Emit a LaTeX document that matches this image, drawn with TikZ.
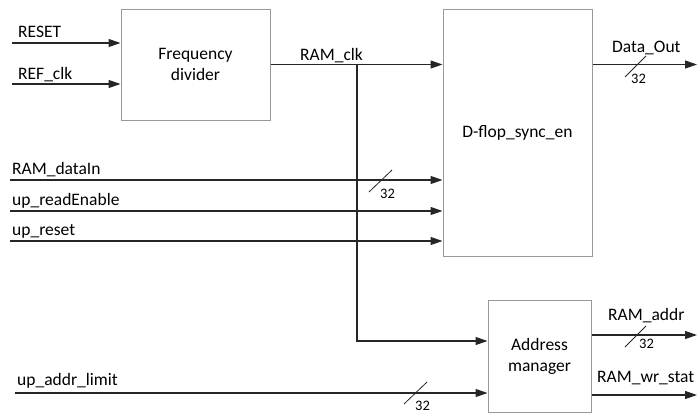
\documentclass[tikz,border=0pt]{standalone}
\usepackage{fontspec}
\setmainfont{Carlito}
\usetikzlibrary{arrows.meta}
\begin{document}
\begin{tikzpicture}[x=1pt,y=-1pt,
  blk/.style={draw=black!40, line width=1pt, inner sep=0pt, align=center, font=\fontsize{17.5}{21}\selectfont},
  sig/.style={line width=1.2pt, draw=black!85},
  arr/.style={sig, -{Triangle[length=12pt,width=8pt]}},
  lbl/.style={font=\fontsize{17.5}{20}\selectfont, inner sep=0pt, anchor=base west},
  bus/.style={line width=0.8pt, draw=black!85},
  num/.style={font=\fontsize{14.5}{16}\selectfont, inner sep=0pt, anchor=base west}
]
\useasboundingbox (0,0) rectangle (697,413);
% blocks
\node[blk, minimum width=149pt, minimum height=111pt] (fd) at (195.5,64.5) {Frequency\\divider};
\node[blk, minimum width=149pt, minimum height=247pt] (df) at (517.5,132.5) {D-flop\_sync\_en};
\node[blk, minimum width=103pt, minimum height=112pt] (am) at (539.5,356) {Address\\manager};
% free ends
\coordinate (iRESET) at (12,43);
\coordinate (iREF) at (12,84);
\coordinate (iDIN) at (10,180);
\coordinate (iRE) at (10,211);
\coordinate (iRST) at (10,241);
\coordinate (iLIM) at (15,393);
\coordinate (oDO) at (697,64.5);
\coordinate (oADDR) at (697,335);
\coordinate (oWR) at (697,395);
\coordinate (br) at (357,64.5);
% connectors
\draw[arr] (iRESET) -- (fd.west |- iRESET);
\draw[arr] (iREF) -- (fd.west |- iREF);
\draw[arr] (fd.east) -- (df.west |- fd.east);
\draw[arr] (br) |- ([yshift=15pt]am.west);
\draw[arr] (df.east |- oDO) -- (oDO);
\draw[arr] (iDIN) -- (df.west |- iDIN);
\draw[arr] (iRE) -- (df.west |- iRE);
\draw[arr] (iRST) -- (df.west |- iRST);
\draw[arr] (iLIM) -- (am.west |- iLIM);
\draw[arr] (am.east |- oADDR) -- (oADDR);
\draw[arr] (am.east |- oWR) -- (oWR);
% bus markers
\draw[bus] (625,77) -- (646,56);
\draw[bus] (369,192) -- (392,170);
\draw[bus] (625,347) -- (646,326);
\draw[bus] (404,404) -- (427,382);
\node[num] at (631,83) {32};
\node[num] at (380,198) {32};
\node[num] at (639,348) {32};
\node[num] at (415,410) {32};
% labels
\node[lbl] at (18,37) {RESET};
\node[lbl] at (18,79) {REF\_clk};
\node[lbl] at (300,60) {RAM\_clk};
\node[lbl] at (612,52) {Data\_Out};
\node[lbl] at (12,174) {RAM\_dataIn};
\node[lbl] at (12,205) {up\_readEnable};
\node[lbl] at (12,235) {up\_reset};
\node[lbl] at (17,385) {up\_addr\_limit};
\node[lbl] at (608,320) {RAM\_addr};
\node[lbl] at (597,382) {RAM\_wr\_stat};
\end{tikzpicture}
\end{document}
